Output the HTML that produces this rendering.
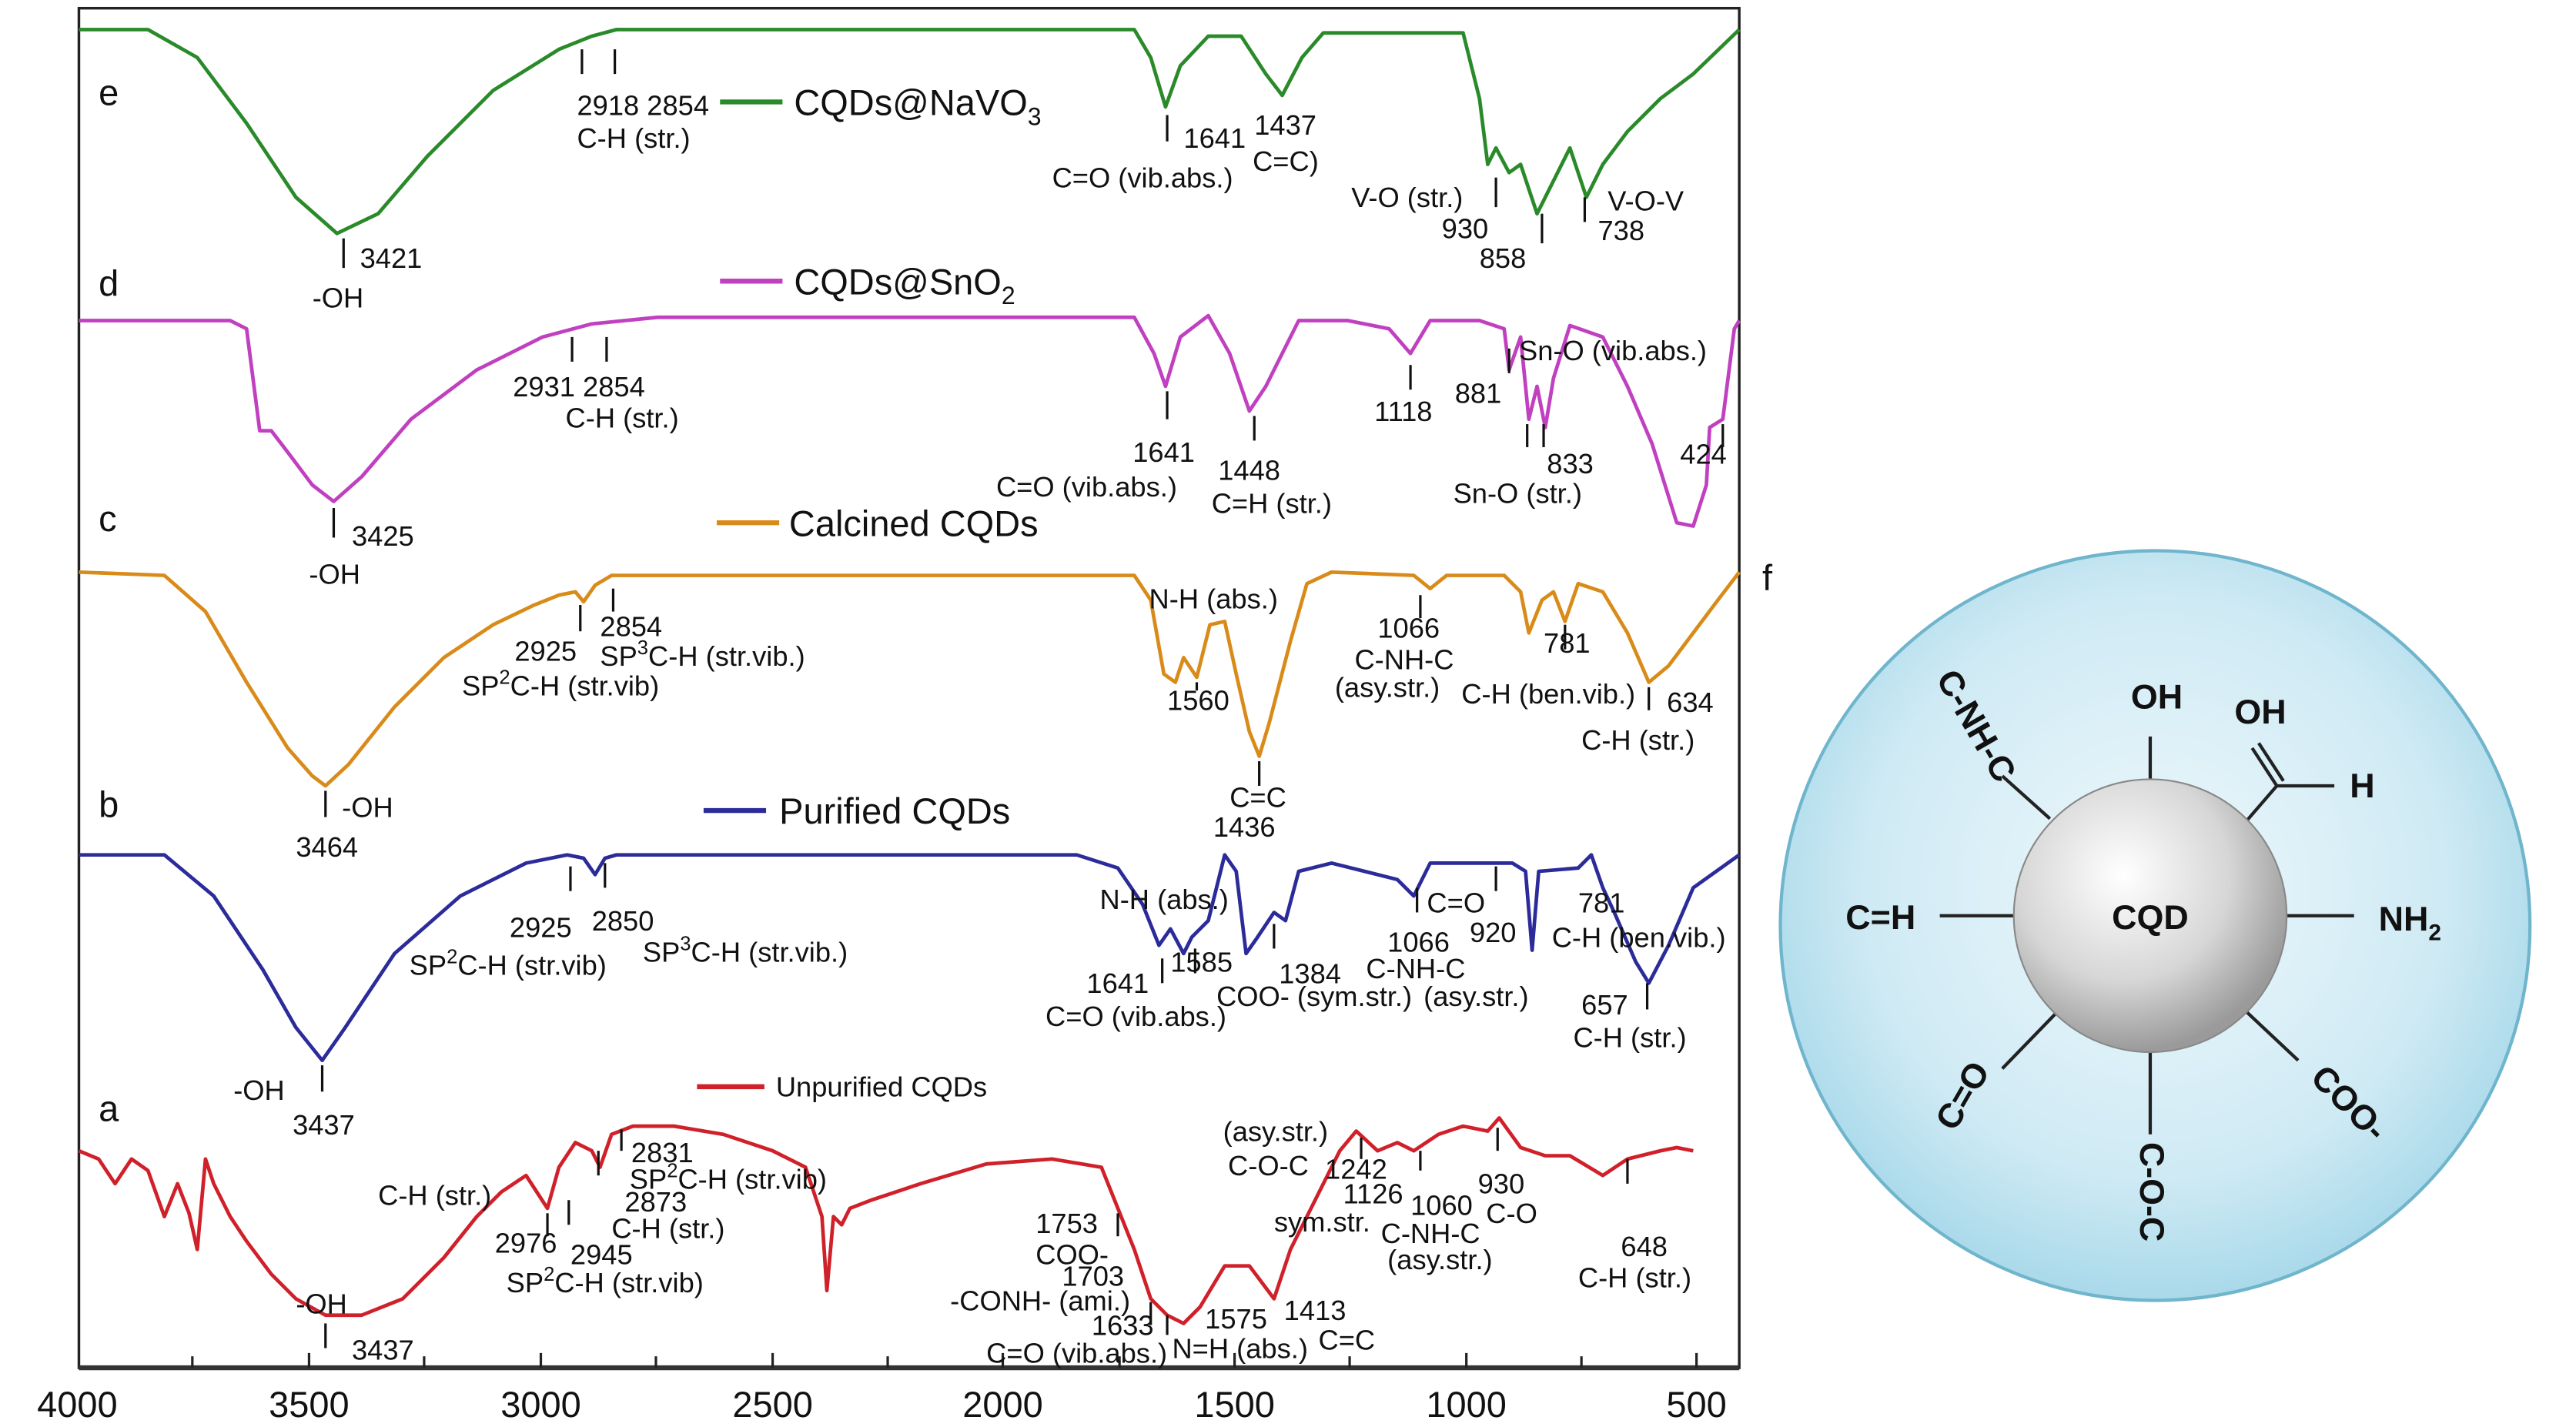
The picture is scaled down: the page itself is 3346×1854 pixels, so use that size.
<!DOCTYPE html>
<html><head><meta charset="utf-8"><style>
html,body{margin:0;padding:0;background:#fff;}
svg{display:block;}
text{font-family:"Liberation Sans",Arial,sans-serif;fill:#111;}
</style></head><body>
<svg width="3346" height="1854" viewBox="0 0 1567 868" preserveAspectRatio="none" xmlns="http://www.w3.org/2000/svg">
<defs>
<radialGradient id="bg" cx="50%" cy="45%" r="55%"><stop offset="0" stop-color="#eef8fc"/><stop offset="0.7" stop-color="#cfeaf4"/><stop offset="1" stop-color="#a9d9ea"/></radialGradient>
<radialGradient id="sp" cx="40%" cy="35%" r="65%"><stop offset="0" stop-color="#ffffff"/><stop offset="0.6" stop-color="#d6d6d6"/><stop offset="1" stop-color="#9a9a9a"/></radialGradient>
</defs>
<rect x="48" y="5" width="1010" height="827" fill="none" stroke="#222" stroke-width="1.6"/>
<line x1="48" y1="832" x2="1058" y2="832" stroke="#333" stroke-width="3"/>
<g stroke="#222" stroke-width="1.5">
<line x1="117" y1="832" x2="117" y2="825"/><line x1="188" y1="832" x2="188" y2="823"/><line x1="258" y1="832" x2="258" y2="825"/><line x1="329" y1="832" x2="329" y2="823"/><line x1="399" y1="832" x2="399" y2="825"/><line x1="470" y1="832" x2="470" y2="823"/><line x1="540" y1="832" x2="540" y2="825"/><line x1="610" y1="832" x2="610" y2="823"/><line x1="681" y1="832" x2="681" y2="825"/><line x1="751" y1="832" x2="751" y2="823"/><line x1="821" y1="832" x2="821" y2="825"/><line x1="892" y1="832" x2="892" y2="823"/><line x1="962" y1="832" x2="962" y2="825"/><line x1="1032" y1="832" x2="1032" y2="823"/>
</g>
<g font-size="22" text-anchor="middle">
<text x="47" y="862">4000</text><text x="329" y="862">3000</text><text x="188" y="862">3500</text><text x="470" y="862">2500</text><text x="610" y="862">2000</text><text x="751" y="862">1500</text><text x="892" y="862">1000</text><text x="1032" y="862">500</text>
</g>
<g fill="none" stroke-width="2.2" stroke-linejoin="round">
<polyline stroke="#2a8a2a" points="48,18 90,18 120,35 150,75 180,120 205,142 230,130 260,95 300,55 340,30 360,22 375,18 690,18 700,35 709,65 718,40 735,22 755,22 770,45 780,58 792,35 805,20 890,20 900,60 905,100 910,90 918,105 925,100 935,130 945,110 955,90 965,120 975,100 990,80 1010,60 1030,45 1058,18"/>
<polyline stroke="#c040c0" points="48,195 140,195 150,200 158,262 165,262 175,275 190,295 203,305 220,290 250,255 290,225 330,205 360,197 400,193 690,193 702,215 709,235 718,205 735,192 748,215 760,250 770,235 780,215 790,195 820,195 845,200 858,215 870,195 900,195 915,200 918,225 925,205 930,255 935,235 940,260 945,230 955,198 975,205 990,235 1005,270 1020,318 1030,320 1038,295 1040,260 1048,255 1055,200 1058,195"/>
<polyline stroke="#d98b1a" points="48,348 100,350 125,372 150,415 175,455 190,472 198,478 212,465 240,430 270,400 300,380 325,368 340,362 350,360 355,366 362,356 372,350 690,350 700,365 708,410 715,415 720,400 728,412 736,380 745,378 752,410 760,445 766,460 772,440 785,390 795,355 810,348 860,350 870,358 880,350 915,350 925,360 930,385 938,365 945,360 952,378 960,355 975,360 990,385 1003,415 1015,405 1030,385 1045,365 1058,348"/>
<polyline stroke="#2b2b9a" points="48,520 100,520 130,545 160,590 180,625 196,645 210,625 240,580 280,545 320,525 345,520 355,522 362,532 368,522 375,520 655,520 680,528 695,550 705,575 712,565 720,580 725,570 735,560 745,520 752,530 758,580 765,570 775,555 782,560 790,530 810,525 850,535 860,545 870,525 920,525 928,530 932,578 936,530 960,528 968,520 975,540 982,555 995,585 1003,598 1015,575 1030,540 1058,520"/>
<polyline stroke="#d0202a" points="48,700 60,705 70,720 80,705 90,712 100,740 108,720 115,738 120,760 125,705 130,720 140,740 150,755 165,775 180,790 198,800 220,800 245,790 270,765 290,740 305,725 320,715 333,735 340,710 350,695 360,700 365,710 372,690 385,685 410,685 440,690 470,700 490,710 500,740 503,785 507,740 512,745 517,735 530,730 560,720 600,708 640,705 670,710 680,735 690,760 700,790 710,800 720,805 730,795 745,770 760,770 775,790 785,760 800,730 815,700 825,688 838,700 850,695 860,700 875,690 890,685 905,688 912,680 925,698 940,703 955,703 975,715 990,705 1010,700 1020,698 1030,700"/>
</g>
<g stroke="#111" stroke-width="1.5">
<line x1="209" y1="145" x2="209" y2="163"/><line x1="354" y1="30" x2="354" y2="45"/><line x1="374" y1="30" x2="374" y2="45"/><line x1="710" y1="70" x2="710" y2="86"/><line x1="910" y1="108" x2="910" y2="126"/><line x1="938" y1="130" x2="938" y2="148"/><line x1="964" y1="120" x2="964" y2="135"/>
<line x1="203" y1="309" x2="203" y2="327"/><line x1="348" y1="205" x2="348" y2="220"/><line x1="369" y1="205" x2="369" y2="220"/><line x1="710" y1="238" x2="710" y2="255"/><line x1="763" y1="253" x2="763" y2="268"/><line x1="858" y1="222" x2="858" y2="237"/><line x1="918" y1="212" x2="918" y2="227"/><line x1="929" y1="258" x2="929" y2="272"/><line x1="939" y1="258" x2="939" y2="272"/><line x1="1048" y1="258" x2="1048" y2="272"/>
<line x1="198" y1="481" x2="198" y2="497"/><line x1="353" y1="368" x2="353" y2="384"/><line x1="373" y1="358" x2="373" y2="372"/><line x1="728" y1="415" x2="728" y2="420"/><line x1="766" y1="463" x2="766" y2="478"/><line x1="864" y1="362" x2="864" y2="376"/><line x1="952" y1="380" x2="952" y2="395"/><line x1="1003" y1="418" x2="1003" y2="432"/>
<line x1="196" y1="648" x2="196" y2="664"/><line x1="347" y1="527" x2="347" y2="542"/><line x1="368" y1="525" x2="368" y2="540"/><line x1="707" y1="583" x2="707" y2="598"/><line x1="727" y1="577" x2="727" y2="592"/><line x1="775" y1="562" x2="775" y2="577"/><line x1="862" y1="540" x2="862" y2="555"/><line x1="910" y1="527" x2="910" y2="542"/><line x1="1002" y1="598" x2="1002" y2="614"/>
<line x1="198" y1="805" x2="198" y2="820"/><line x1="333" y1="738" x2="333" y2="752"/><line x1="346" y1="730" x2="346" y2="745"/><line x1="364" y1="700" x2="364" y2="715"/><line x1="378" y1="687" x2="378" y2="700"/><line x1="680" y1="738" x2="680" y2="752"/><line x1="700" y1="792" x2="700" y2="806"/><line x1="710" y1="800" x2="710" y2="812"/><line x1="828" y1="692" x2="828" y2="705"/><line x1="864" y1="700" x2="864" y2="712"/><line x1="911" y1="686" x2="911" y2="700"/><line x1="990" y1="705" x2="990" y2="720"/>
</g>
<g stroke-width="3"><line x1="438" y1="62" x2="476" y2="62" stroke="#2a8a2a"/><line x1="438" y1="171" x2="476" y2="171" stroke="#c040c0"/><line x1="436" y1="318" x2="474" y2="318" stroke="#d98b1a"/><line x1="428" y1="493" x2="466" y2="493" stroke="#2b2b9a"/><line x1="424" y1="661" x2="465" y2="661" stroke="#d0202a"/></g>
<g font-size="22"><text x="483" y="70">CQDs@NaVO<tspan font-size="15" dy="6">3</tspan></text><text x="483" y="179">CQDs@SnO<tspan font-size="15" dy="6">2</tspan></text><text x="480" y="326">Calcined CQDs</text><text x="474" y="501">Purified CQDs</text></g>
<text x="472" y="667" font-size="17">Unpurified CQDs</text>
<g font-size="22"><text x="60" y="64">e</text><text x="60" y="180">d</text><text x="60" y="323">c</text><text x="60" y="497">b</text><text x="60" y="682">a</text><text x="1072" y="359">f</text></g>
<g font-size="17">
<text x="219" y="163">3421</text><text x="190" y="187">-OH</text><text x="351" y="70">2918 2854</text><text x="351" y="90">C-H (str.)</text><text x="720" y="90">1641</text><text x="763" y="82">1437</text><text x="640" y="114">C=O (vib.abs.)</text><text x="762" y="104">C=C)</text><text x="822" y="126">V-O (str.)</text><text x="877" y="145">930</text><text x="900" y="163">858</text><text x="978" y="128">V-O-V</text><text x="972" y="146">738</text>
<text x="214" y="332">3425</text><text x="188" y="355">-OH</text><text x="312" y="241">2931 2854</text><text x="344" y="260">C-H (str.)</text><text x="689" y="281">1641</text><text x="741" y="292">1448</text><text x="606" y="302">C=O (vib.abs.)</text><text x="737" y="312">C=H (str.)</text><text x="836" y="256">1118</text><text x="885" y="245">881</text><text x="924" y="219">Sn-O (vib.abs.)</text><text x="941" y="288">833</text><text x="884" y="306">Sn-O (str.)</text><text x="1022" y="282">424</text>
<text x="208" y="497">-OH</text><text x="180" y="521">3464</text><text x="313" y="402">2925</text><text x="365" y="387">2854</text><text x="281" y="423">SP<tspan font-size="12" dy="-7">2</tspan><tspan dy="7">C-H (str.vib)</tspan></text><text x="365" y="405">SP<tspan font-size="12" dy="-7">3</tspan><tspan dy="7">C-H (str.vib.)</tspan></text><text x="699" y="370">N-H (abs.)</text><text x="710" y="432">1560</text><text x="748" y="491">C=C</text><text x="738" y="509">1436</text><text x="838" y="388">1066</text><text x="824" y="407">C-NH-C</text><text x="812" y="424">(asy.str.)</text><text x="889" y="428">C-H (ben.vib.)</text><text x="939" y="397">781</text><text x="1014" y="433">634</text><text x="962" y="456">C-H (str.)</text>
<text x="142" y="669">-OH</text><text x="178" y="690">3437</text><text x="310" y="570">2925</text><text x="360" y="566">2850</text><text x="249" y="593">SP<tspan font-size="12" dy="-7">2</tspan><tspan dy="7">C-H (str.vib)</tspan></text><text x="391" y="585">SP<tspan font-size="12" dy="-7">3</tspan><tspan dy="7">C-H (str.vib.)</tspan></text><text x="669" y="553">N-H (abs.)</text><text x="661" y="604">1641</text><text x="712" y="591">1585</text><text x="636" y="624">C=O (vib.abs.)</text><text x="778" y="598">1384</text><text x="740" y="612">COO- (sym.str.)</text><text x="868" y="555">C=O</text><text x="894" y="573">920</text><text x="844" y="579">1066</text><text x="831" y="595">C-NH-C</text><text x="866" y="612">(asy.str.)</text><text x="960" y="555">781</text><text x="944" y="576">C-H (ben.vib.)</text><text x="962" y="617">657</text><text x="957" y="637">C-H (str.)</text>
<text x="180" y="799">-OH</text><text x="214" y="827">3437</text><text x="230" y="733">C-H (str.)</text><text x="301" y="762">2976</text><text x="347" y="769">2945</text><text x="380" y="737">2873</text><text x="384" y="707">2831</text><text x="383" y="723">SP<tspan font-size="12" dy="-7">2</tspan><tspan dy="7">C-H (str.vib)</tspan></text><text x="372" y="753">C-H (str.)</text><text x="308" y="786">SP<tspan font-size="12" dy="-7">2</tspan><tspan dy="7">C-H (str.vib)</tspan></text>
<text x="630" y="750">1753</text><text x="630" y="769">COO-</text><text x="646" y="782">1703</text><text x="578" y="797">-CONH- (ami.)</text><text x="664" y="812">1633</text><text x="600" y="829">C=O (vib.abs.)</text><text x="733" y="808">1575</text><text x="713" y="826">N=H (abs.)</text><text x="781" y="803">1413</text><text x="802" y="821">C=C</text><text x="744" y="694">(asy.str.)</text><text x="747" y="715">C-O-C</text><text x="806" y="717">1242</text><text x="817" y="732">1126</text><text x="775" y="749">sym.str.</text><text x="858" y="739">1060</text><text x="840" y="756">C-NH-C</text><text x="844" y="772">(asy.str.)</text><text x="899" y="726">930</text><text x="904" y="744">C-O</text><text x="986" y="764">648</text><text x="960" y="783">C-H (str.)</text>
</g>
<circle cx="1311" cy="563" r="228" fill="url(#bg)" stroke="#6fb5cc" stroke-width="2"/>
<g stroke="#222" stroke-width="2">
<line x1="1308" y1="474" x2="1308" y2="448"/><line x1="1308" y1="640" x2="1308" y2="690"/><line x1="1391" y1="557" x2="1432" y2="557"/><line x1="1225" y1="557" x2="1180" y2="557"/>
<line x1="1247" y1="498" x2="1218" y2="472"/><line x1="1365" y1="614" x2="1398" y2="645"/><line x1="1250" y1="617" x2="1218" y2="650"/>
<line x1="1366" y1="500" x2="1385" y2="478"/><line x1="1385" y1="478" x2="1420" y2="478"/><line x1="1385" y1="478" x2="1370" y2="455"/><line x1="1389" y1="475" x2="1374" y2="452"/>
</g>
<circle cx="1308" cy="557" r="83" fill="url(#sp)" stroke="#888" stroke-width="1"/>
<g font-size="21" font-weight="bold" text-anchor="middle">
<text x="1308" y="565" fill="#e0202a">CQD</text>
<text x="1312" y="431">OH</text><text x="1375" y="440">OH</text><text x="1437" y="485">H</text>
<text x="1144" y="565">C=H</text><text x="1466" y="566">NH<tspan font-size="14" dy="6">2</tspan></text>
<text transform="translate(1196,445) rotate(60)">C-NH-C</text>
<text transform="translate(1200,670) rotate(-60)">C=O</text>
<text transform="translate(1302,725) rotate(90)">C-O-C</text>
<text transform="translate(1424,676) rotate(45)">COO-</text>
</g>
</svg>
</body></html>
